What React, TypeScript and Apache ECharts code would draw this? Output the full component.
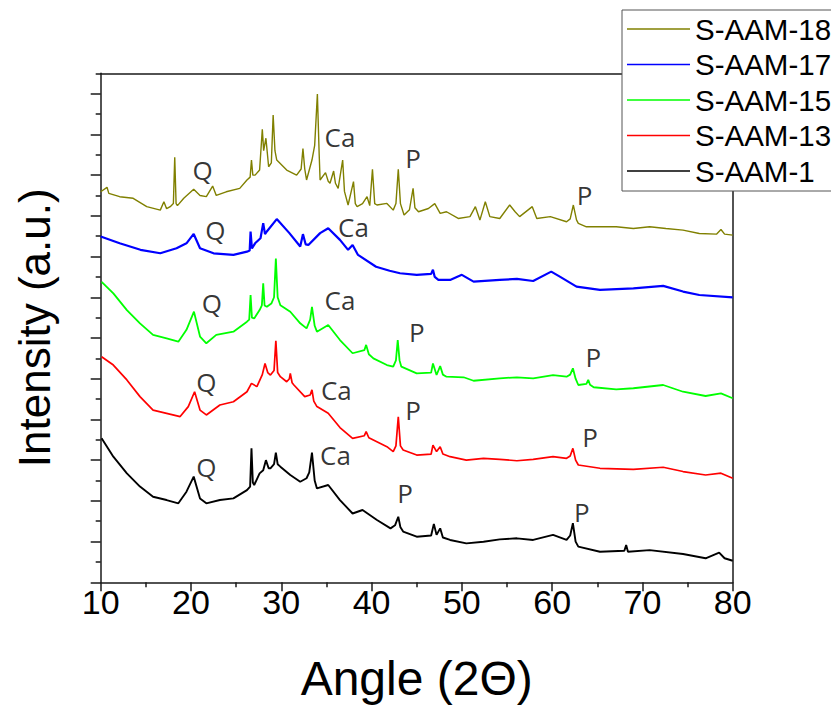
import React, { useEffect, useRef } from "react";
import * as echarts from "echarts";

// ---- data (angle 2θ, intensity in a.u. with vertical offsets as drawn) ----
const seriesNames = ["S-AAM-18", "S-AAM-17", "S-AAM-15", "S-AAM-13", "S-AAM-1"];
const seriesColors = ["#808000", "#0000ff", "#00ff00", "#ff0000", "#000000"];
const seriesWidths = [1.4, 2.2, 1.8, 1.7, 1.9];

const aam18: [number, number][] = [
  [10.0,19.18],[10.7,19.4],[10.9,19.1],[12.1,18.94],[13.6,18.86],[15.1,18.45],[16.6,18.28],[17.0,18.69],[17.3,18.35],[17.7,18.45],
  [18.05,18.6],[18.2,20.87],[18.35,18.6],[18.5,18.5],[19.2,18.86],[20.3,19.3],[21.0,19.0],[21.7,18.94],[22.4,19.46],[22.8,19.0],
  [23.9,19.18],[25.4,19.35],[26.2,19.76],[26.55,19.9],[26.7,20.74],[26.85,20.0],[27.1,20.0],[27.6,20.25],[27.9,22.25],[28.05,21.2],
  [28.3,21.81],[28.6,20.41],[28.9,20.6],[29.1,22.95],[29.3,21.2],[29.5,20.74],[30.6,20.25],[31.7,20.0],[32.2,20.3],[32.4,21.3],
  [32.6,20.3],[32.8,19.76],[33.4,20.74],[33.7,21.46],[34.0,23.98],[34.2,21.0],[34.3,19.76],[34.9,20.12],[35.2,19.7],[35.4,19.6],
  [35.8,20.2],[36.0,19.6],[36.3,19.35],[36.8,20.74],[37.0,19.2],[37.4,18.53],[38.0,19.68],[38.2,18.6],[38.4,18.45],[39.0,18.6],
  [39.5,18.94],[39.8,18.5],[40.1,20.28],[40.35,18.6],[40.6,18.53],[41.7,18.61],[42.4,18.28],[42.7,18.6],[42.96,20.28],[43.2,18.6],
  [43.6,18.04],[44.2,18.3],[44.6,19.35],[44.8,18.4],[45.2,18.2],[46.3,18.36],[47.0,18.6],[47.6,18.12],[48.3,18.2],[49.6,17.87],
  [50.9,17.96],[51.5,18.45],[52.0,17.79],[52.6,18.69],[53.1,17.96],[54.2,17.87],[55.3,18.53],[55.9,18.2],[56.4,17.96],[57.8,18.45],
  [58.3,17.87],[59.8,17.96],[61.6,17.71],[62.0,17.85],[62.35,18.53],[62.7,17.8],[62.9,17.63],[63.8,17.46],[65.3,17.46],[67.1,17.46],
  [69.0,17.38],[70.8,17.46],[72.6,17.38],[74.5,17.3],[76.3,17.13],[78.2,17.1],[78.7,17.33],[79.1,17.1],[80.0,17.05],
];

const aam17: [number, number][] = [
  [10.0,16.98],[12.1,16.65],[14.4,16.33],[16.6,16.16],[18.4,16.41],[19.5,16.65],[20.3,17.11],[21.0,16.41],[22.5,16.16],[24.7,16.08],
  [26.2,16.24],[26.5,16.3],[26.6,17.23],[26.75,16.4],[27.1,16.65],[27.7,16.9],[28.0,17.64],[28.2,17.1],[28.4,17.23],[29.5,17.84],
  [30.9,17.15],[32.1,16.49],[32.4,17.1],[32.7,16.6],[33.0,16.57],[34.3,17.15],[35.2,17.39],[36.5,16.82],[37.4,16.33],[37.9,16.57],
  [38.5,16.08],[40.5,15.5],[42.0,15.3],[43.15,15.18],[45.0,15.1],[46.6,15.15],[46.8,15.35],[47.0,15.0],[47.4,14.85],[48.7,14.85],
  [50.0,15.1],[51.3,14.77],[54.2,14.85],[56.1,14.9],[57.9,14.8],[59.9,15.26],[60.9,15.0],[62.7,14.52],[65.3,14.36],[69.0,14.44],
  [72.3,14.56],[74.5,14.28],[76.3,14.11],[80.0,13.99],
];

const aam15: [number, number][] = [
  [10.1,14.76],[11.4,14.19],[12.9,13.37],[14.35,12.72],[15.8,12.15],[17.3,11.98],[18.6,11.82],[19.5,12.4],[20.33,13.29],[21.0,12.07],
  [21.7,11.74],[22.8,12.15],[24.7,12.31],[26.2,12.8],[26.45,12.9],[26.6,14.11],[26.75,13.0],[27.0,12.96],[27.6,13.37],[27.85,13.6],
  [28.0,14.68],[28.15,13.6],[28.4,13.53],[28.9,13.69],[29.2,14.0],[29.4,15.9],[29.6,14.0],[29.9,13.61],[31.0,13.29],[32.1,12.72],
  [32.8,12.47],[33.2,12.9],[33.4,13.53],[33.7,12.6],[33.95,12.31],[35.2,12.64],[36.5,11.9],[37.9,11.25],[39.2,11.4],[39.4,11.66],
  [39.7,11.2],[40.2,11.0],[41.7,10.67],[42.4,10.59],[42.7,10.9],[42.9,11.9],[43.1,10.9],[43.3,10.59],[45.0,10.26],[46.6,10.3],
  [46.8,10.75],[47.2,10.18],[47.6,10.62],[47.9,10.2],[48.3,10.1],[50.2,10.07],[51.3,9.9],[54.2,10.02],[56.1,10.07],[57.9,10.02],
  [60.1,10.18],[61.6,10.1],[62.0,10.2],[62.3,10.51],[62.6,10.0],[62.9,9.69],[63.8,9.75],[64.0,9.94],[64.2,9.7],[64.6,9.58],
  [67.1,9.48],[69.0,9.53],[72.3,9.69],[74.5,9.36],[77.0,9.15],[78.7,9.28],[80.0,9.04],
];

const aam13: [number, number][] = [
  [10.1,11.08],[11.4,10.67],[12.9,9.94],[14.35,9.12],[15.8,8.46],[17.3,8.3],[18.8,8.14],[19.7,8.63],[20.4,9.36],[21.0,8.46],
  [21.7,8.22],[23.2,8.71],[24.7,8.87],[26.2,9.36],[26.7,9.77],[27.3,9.61],[27.9,10.2],[28.2,10.75],[28.5,10.3],[28.8,10.18],
  [29.2,10.4],[29.4,11.86],[29.6,10.3],[29.9,10.1],[30.6,9.85],[30.9,10.0],[31.0,10.26],[31.2,9.8],[31.4,9.69],[32.6,9.12],
  [33.2,9.2],[33.4,9.45],[33.6,8.9],[33.95,8.63],[35.2,8.3],[36.5,7.6],[37.9,7.07],[39.2,7.2],[39.4,7.4],[39.7,7.1],
  [40.2,6.99],[41.7,6.66],[42.4,6.42],[42.7,6.7],[42.96,8.13],[43.2,6.7],[43.5,6.5],[45.0,6.25],[46.6,6.3],[46.8,6.74],
  [47.2,6.42],[47.6,6.66],[47.9,6.3],[48.7,6.17],[50.5,6.0],[52.4,6.09],[54.2,6.04],[56.1,5.97],[57.9,6.04],[60.1,6.17],
  [61.6,6.09],[62.0,6.2],[62.3,6.58],[62.6,6.0],[62.9,5.76],[65.3,5.6],[69.0,5.55],[72.3,5.65],[74.5,5.44],[77.0,5.27],
  [78.7,5.36],[80.0,5.11],
];

const aam1: [number, number][] = [
  [10.1,7.07],[11.4,6.17],[12.9,5.35],[14.35,4.7],[15.8,4.2],[17.3,4.04],[18.6,3.88],[19.5,4.45],[20.3,5.19],[21.0,4.12],
  [21.7,3.88],[23.2,4.04],[24.7,4.12],[26.2,4.53],[26.55,4.7],[26.7,6.58],[26.85,4.9],[27.0,4.78],[27.6,5.35],[28.0,5.5],
  [28.3,6.0],[28.6,5.6],[28.8,5.6],[29.2,5.8],[29.4,6.37],[29.6,5.8],[29.9,5.68],[31.0,5.27],[32.1,4.94],[32.8,5.11],
  [33.1,5.4],[33.4,6.37],[33.7,5.0],[33.95,4.61],[35.2,4.78],[36.5,4.04],[37.9,3.38],[39.0,3.55],[40.6,3.06],[42.1,2.65],
  [42.6,2.8],[42.96,3.22],[43.2,2.7],[43.5,2.49],[45.0,2.24],[46.6,2.3],[46.9,2.87],[47.2,2.33],[47.6,2.65],[47.9,2.2],
  [48.7,2.08],[50.5,1.91],[52.4,1.99],[54.2,2.11],[56.1,2.16],[57.9,2.08],[60.1,2.33],[61.6,2.08],[62.0,2.3],[62.3,2.9],
  [62.6,2.0],[62.9,1.75],[65.3,1.5],[68.0,1.55],[68.2,1.83],[68.4,1.5],[70.8,1.58],[74.5,1.39],[77.0,1.18],[78.5,1.46],
  [79.1,1.18],[80.0,1.06],
];

const seriesData = [aam18, aam17, aam15, aam13, aam1];

// phase labels: Q = quartz, Ca = calcite, P = portlandite
const annoText = ["Q","Ca","P","P", "Q","Ca", "Q","Ca","P","P", "Q","Ca","P","P", "Q","Ca","P","P"];
const annoAngle = [21.3,36.5,44.6,63.6, 22.7,38.0, 22.3,36.5,45.0,64.55, 21.7,36.1,44.6,64.2, 21.7,36.0,43.7,63.3];
const annoInt = [20.25,21.89,20.82,19.02, 17.3,17.47, 13.7,13.87,12.31,11.08, 9.85,9.44,8.46,7.15, 5.68,6.25,4.37,3.47];

const xTicks = { min: 10, max: 80, interval: 10 };
const yRange = { min: 0, max: 25 };
const yMajorTicks = [0, 2, 4, 6, 8, 10, 12, 14, 16, 18, 20, 22, 24];
const yMinorTicks = [1, 3, 5, 7, 9, 11, 13, 15, 17, 19, 21, 23, 25];

export default function App() {
  const ref = useRef<HTMLDivElement>(null);
  useEffect(() => {
    document.body.style.margin = "0";
    const chart = echarts.init(ref.current!, null, { renderer: "svg" });
    const axisColor = "#1a1a1a";
    const font = "'Liberation Sans', Arial, sans-serif";
    chart.setOption({
      animation: false,
      backgroundColor: "#ffffff",
      grid: { left: 100.7, right: 98.3, top: 73.3, bottom: 126.7, containLabel: false },
      legend: {
        data: seriesNames,
        orient: "vertical",
        left: 622,
        top: 10,
        padding: [4, 40, 5, 5],
        icon: "rect",
        itemWidth: 63,
        itemHeight: 1.5,
        itemGap: 5.5,
        backgroundColor: "#ffffff",
        borderColor: "#555",
        borderWidth: 1,
        textStyle: { fontFamily: font, fontSize: 29.5, color: "#000", lineHeight: 30 },
        z: 10,
      },
      xAxis: [
        {
          type: "value",
          min: xTicks.min,
          max: xTicks.max,
          interval: xTicks.interval,
          position: "bottom",
          name: "Angle (2Θ)",
          nameLocation: "middle",
          nameGap: 72,
          nameTextStyle: { fontFamily: font, fontSize: 48, color: "#000" },
          axisLine: { show: true, lineStyle: { color: axisColor, width: 1.5 } },
          axisTick: { show: true, inside: false, length: 9, lineStyle: { color: axisColor, width: 1.5 } },
          minorTick: { show: true, splitNumber: 2, length: 5, lineStyle: { color: axisColor, width: 1.5 } },
          axisLabel: { fontFamily: font, fontSize: 34, color: "#000", margin: 3 },
          splitLine: { show: false },
        },
        {
          type: "value",
          min: xTicks.min,
          max: xTicks.max,
          position: "top",
          axisLine: { show: true, onZero: false, lineStyle: { color: axisColor, width: 1.5 } },
          axisTick: { show: false },
          axisLabel: { show: false },
          splitLine: { show: false },
        },
      ],
      yAxis: [
        {
          type: "value",
          min: yRange.min,
          max: yRange.max,
          position: "left",
          name: "Intensity (a.u.)",
          nameLocation: "middle",
          nameGap: 44,
          nameTextStyle: { fontFamily: font, fontSize: 44, color: "#000" },
          axisLine: { show: true, onZero: false, lineStyle: { color: axisColor, width: 1.5 } },
          axisTick: { show: true, inside: false, length: 10, customValues: yMajorTicks, lineStyle: { color: axisColor, width: 1.5 } },
          axisLabel: { show: false },
          splitLine: { show: false },
        },
        {
          type: "value",
          min: yRange.min,
          max: yRange.max,
          position: "left",
          axisLine: { show: false },
          axisTick: { show: true, inside: false, length: 5, customValues: yMinorTicks, lineStyle: { color: axisColor, width: 1.5 } },
          axisLabel: { show: false },
          splitLine: { show: false },
        },
        {
          type: "value",
          min: yRange.min,
          max: yRange.max,
          position: "right",
          axisLine: { show: true, onZero: false, lineStyle: { color: axisColor, width: 1.5 } },
          axisTick: { show: false },
          axisLabel: { show: false },
          splitLine: { show: false },
        },
      ],
      series: [
        ...seriesNames.map((name, k) => ({
          name,
          type: "line",
          xAxisIndex: 0,
          yAxisIndex: 0,
          data: seriesData[k],
          symbol: "none",
          smooth: false,
          color: seriesColors[k],
          lineStyle: { color: seriesColors[k], width: seriesWidths[k] },
          z: 3,
        })),
        {
          name: "labels",
          type: "scatter",
          xAxisIndex: 0,
          yAxisIndex: 0,
          silent: true,
          symbolSize: 1,
          itemStyle: { color: "rgba(0,0,0,0)" },
          data: annoText.map((t, i) => ({ name: t, value: [annoAngle[i], annoInt[i]] })),
          label: {
            show: true,
            position: "inside",
            formatter: "{b}",
            fontFamily: "'Open Sans', 'Noto Sans', sans-serif",
            fontSize: 26,
            color: "#000",
          },
          z: 4,
        },
      ],
    });
    return () => chart.dispose();
  }, []);
  return <div ref={ref} style={{ width: 831, height: 709 }} />;
}
